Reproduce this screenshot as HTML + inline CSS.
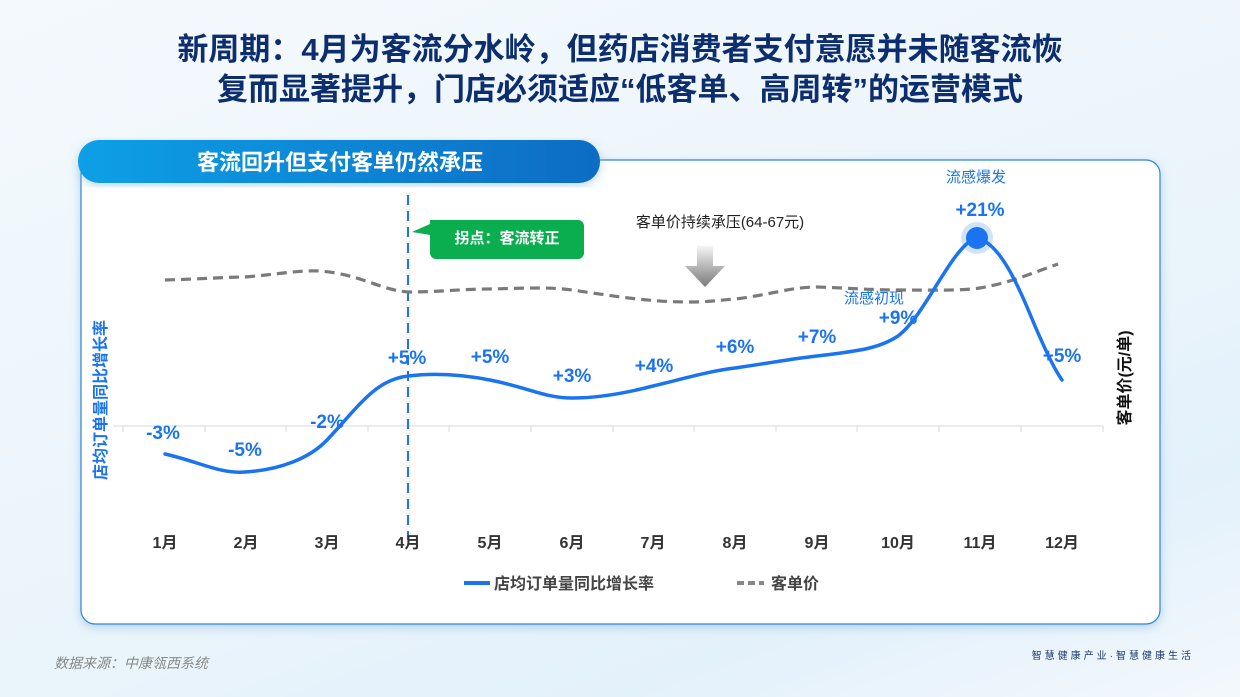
<!DOCTYPE html>
<html><head><meta charset="utf-8"><style>
html,body{margin:0;padding:0;}
body{width:1240px;height:697px;overflow:hidden;background:linear-gradient(160deg,#f4f9fd 0%,#eaf4fb 60%,#e3f1fb 80%,#f3f8fc 100%);font-family:"Liberation Sans","Noto Sans CJK SC",sans-serif;position:relative;}
.t{position:absolute;left:0;width:1240px;text-align:center;color:#0d2e6e;font-weight:bold;font-size:31px;line-height:40px;}
</style></head><body>
<div class="t" style="top:30px">新周期：4月为客流分水岭，但药店消费者支付意愿并未随客流恢</div>
<div class="t" style="top:70px">复而显著提升，门店必须适应“低客单、高周转”的运营模式</div>
<svg width="1240" height="697" style="position:absolute;left:0;top:0" font-family="Liberation Sans, Noto Sans CJK SC, sans-serif">
<defs>
<linearGradient id="hg" x1="0" x2="1"><stop offset="0" stop-color="#0aa0e6"/><stop offset="1" stop-color="#0a6cc4"/></linearGradient>
<linearGradient id="ag" x1="0" y1="0" x2="0" y2="1"><stop offset="0" stop-color="#f4f4f4"/><stop offset="1" stop-color="#7a7a7a"/></linearGradient>
<filter id="sh" x="-5%" y="-5%" width="110%" height="115%"><feDropShadow dx="0" dy="3" stdDeviation="5" flood-color="#7fb4e0" flood-opacity="0.5"/></filter>
</defs>
<rect x="81" y="160" width="1079" height="464" rx="14" fill="#fff" stroke="#2a86d4" stroke-width="1.2" filter="url(#sh)"/>
<rect x="78" y="140" width="522" height="43" rx="21" fill="url(#hg)" filter="url(#sh)"/>
<text x="340" y="170" text-anchor="middle" fill="#fff" font-size="22" font-weight="bold">客流回升但支付客单仍然承压</text>
<line x1="113" y1="426" x2="1103" y2="426" stroke="#d8d8d8" stroke-width="1"/>
<g stroke="#d8d8d8"><line x1="123" y1="426" x2="123" y2="432"/><line x1="205" y1="426" x2="205" y2="432"/><line x1="286" y1="426" x2="286" y2="432"/><line x1="368" y1="426" x2="368" y2="432"/><line x1="449" y1="426" x2="449" y2="432"/><line x1="531" y1="426" x2="531" y2="432"/><line x1="613" y1="426" x2="613" y2="432"/><line x1="694" y1="426" x2="694" y2="432"/><line x1="776" y1="426" x2="776" y2="432"/><line x1="857" y1="426" x2="857" y2="432"/><line x1="939" y1="426" x2="939" y2="432"/><line x1="1021" y1="426" x2="1021" y2="432"/><line x1="1103" y1="426" x2="1103" y2="432"/></g>
<line x1="408" y1="195" x2="408" y2="540" stroke="#1a73f0" stroke-width="2" stroke-dasharray="10,6"/>
<path d="M165,280 C200,279 230,277 245,277 C280,274 300,270 320,271 C360,274 380,290 408,292 C440,292 460,289 490,289 C530,288 550,287 572,290 C620,297 650,302 690,302 C710,302 720,300 735,299 C770,295 790,287 817,287 C850,288 870,290 898,290 C930,290 960,291 980,288 C1010,283 1035,272 1058,264" fill="none" stroke="#7a7a7a" stroke-width="3.2" stroke-dasharray="10,6"/>
<path d="M165,454 C200,462 220,474 245,472 C280,470 310,458 327,440 C360,405 375,380 408,376 C440,372 470,376 490,380 C530,388 545,398 572,398 C600,398 630,392 653,386 C690,377 710,371 735,368 C770,363 790,359 817,356 C860,351 880,348 898,336 C925,316 950,250 975,238 C1000,240 1020,290 1035,326 C1048,356 1055,370 1062,380" fill="none" stroke="#1a73f0" stroke-width="3.5" stroke-linecap="round"/>
<circle cx="977" cy="238" r="16" fill="#1a73f0" fill-opacity="0.2"/>
<circle cx="977" cy="238" r="11" fill="#1a73f0"/>
<g fill="#1a73f0" font-size="19" font-weight="bold" text-anchor="middle">
<text x="163" y="439">-3%</text><text x="245" y="456">-5%</text><text x="327" y="428">-2%</text>
<text x="407" y="364">+5%</text><text x="490" y="363">+5%</text><text x="572" y="382">+3%</text>
<text x="654" y="372">+4%</text><text x="735" y="353">+6%</text><text x="817" y="343">+7%</text>
<text x="898" y="324">+9%</text><text x="980" y="216">+21%</text><text x="1062" y="362">+5%</text>
</g>
<g fill="#1a73f0" font-size="15" text-anchor="middle"><text x="976" y="182">流感爆发</text><text x="874" y="303">流感初现</text></g>
<path d="M430,220 h148 a6,6 0 0 1 6,6 v27 a6,6 0 0 1 -6,6 h-142 a6,6 0 0 1 -6,-6 v-18 l-18,-3 l18,-8 v-4 z" fill="#0bae4f"/>
<text x="507" y="243" text-anchor="middle" fill="#fff" font-size="15" font-weight="bold">拐点：客流转正</text>
<text x="720" y="227" text-anchor="middle" fill="#222" font-size="15">客单价持续承压(64-67元)</text>
<path d="M697,246 h16 v20 h12 l-20,21 l-20,-21 h12 z" fill="url(#ag)"/>
<g fill="#333" font-size="16" font-weight="bold" text-anchor="middle">
<text x="165" y="548">1月</text><text x="246" y="548">2月</text><text x="327" y="548">3月</text><text x="408" y="548">4月</text><text x="490" y="548">5月</text><text x="572" y="548">6月</text><text x="653" y="548">7月</text><text x="735" y="548">8月</text><text x="817" y="548">9月</text><text x="898" y="548">10月</text><text x="980" y="548">11月</text><text x="1062" y="548">12月</text>
</g>
<text transform="translate(106,400) rotate(-90)" text-anchor="middle" fill="#1a73f0" font-size="16" font-weight="bold">店均订单量同比增长率</text>
<text transform="translate(1130,378) rotate(-90)" text-anchor="middle" fill="#111" font-size="16" font-weight="bold">客单价(元/单)</text>
<line x1="464" y1="583" x2="490" y2="583" stroke="#1a73f0" stroke-width="4"/>
<text x="494" y="589" fill="#444" font-size="16" font-weight="bold">店均订单量同比增长率</text>
<line x1="737" y1="583" x2="764" y2="583" stroke="#888" stroke-width="4" stroke-dasharray="7,4"/>
<text x="771" y="589" fill="#444" font-size="16" font-weight="bold">客单价</text>
<text x="54" y="668" fill="#888" font-size="14" font-style="italic">数据来源：中康瓴西系统</text>
<text x="1194" y="659" text-anchor="end" fill="#1c3a6e" font-size="10" letter-spacing="3">智慧健康产业·智慧健康生活</text>
</svg>
</body></html>
